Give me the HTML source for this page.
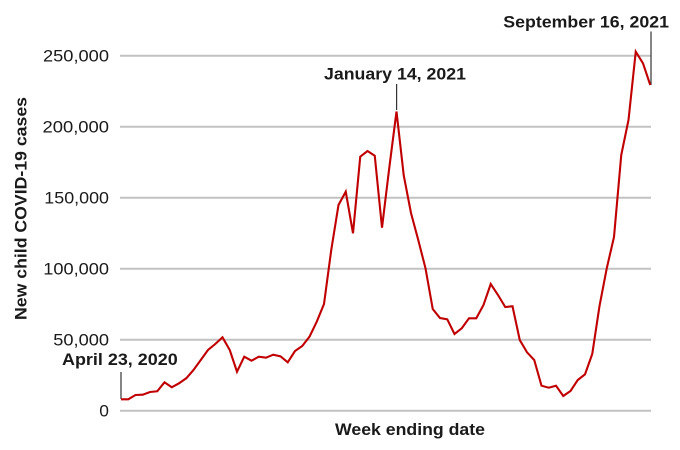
<!DOCTYPE html>
<html>
<head>
<meta charset="utf-8">
<style>
  html, body { margin: 0; padding: 0; background: #ffffff; }
  svg { display: block; }
  text { font-family: "Liberation Sans", sans-serif; fill: #1a1a1a; }
  .tick { font-size: 16.5px; font-weight: normal; }
  .ann { font-size: 16.5px; font-weight: bold; }
</style>
</head>
<body>
<svg width="680" height="450" viewBox="0 0 680 450" xmlns="http://www.w3.org/2000/svg">
  <rect x="0" y="0" width="680" height="450" fill="#ffffff"/>
  <!-- gridlines -->
  <g stroke="#c2c2c2" stroke-width="2">
    <line x1="120" y1="55.7" x2="651" y2="55.7"/>
    <line x1="120" y1="126.7" x2="651" y2="126.7"/>
    <line x1="120" y1="197.7" x2="651" y2="197.7"/>
    <line x1="120" y1="268.7" x2="651" y2="268.7"/>
    <line x1="120" y1="339.7" x2="651" y2="339.7"/>
    <line x1="120" y1="410.7" x2="651" y2="410.7"/>
  </g>
  <!-- tick labels -->
  <text class="tick" x="109" y="61.5" text-anchor="end" textLength="66" lengthAdjust="spacingAndGlyphs">250,000</text>
  <text class="tick" x="109" y="132.5" text-anchor="end" textLength="66.5" lengthAdjust="spacingAndGlyphs">200,000</text>
  <text class="tick" x="109" y="203.5" text-anchor="end" textLength="64.7" lengthAdjust="spacingAndGlyphs">150,000</text>
  <text class="tick" x="109" y="274.5" text-anchor="end" textLength="65.7" lengthAdjust="spacingAndGlyphs">100,000</text>
  <text class="tick" x="109" y="345.5" text-anchor="end" textLength="55.7" lengthAdjust="spacingAndGlyphs">50,000</text>
  <text class="tick" x="109" y="416.5" text-anchor="end" textLength="9.7" lengthAdjust="spacingAndGlyphs">0</text>

  <!-- axis titles -->
  <text class="ann" x="335" y="435" textLength="150" lengthAdjust="spacingAndGlyphs">Week ending date</text>
  <text class="ann" transform="translate(26.5,320) rotate(-90)" x="0" y="0" textLength="223" lengthAdjust="spacingAndGlyphs">New child COVID-19 cases</text>

  <!-- annotation leader lines -->
  <g stroke="#333333" stroke-width="1.2">
    <line x1="121" y1="372" x2="121" y2="399"/>
    <line x1="396.6" y1="84" x2="396.6" y2="110"/>
    <line x1="651" y1="31.5" x2="651" y2="85"/>
  </g>

  <!-- annotation texts -->
  <text class="ann" x="62" y="365" textLength="115.7" lengthAdjust="spacingAndGlyphs">April 23, 2020</text>
  <text class="ann" x="324" y="79.3" textLength="142" lengthAdjust="spacingAndGlyphs">January 14, 2021</text>
  <text class="ann" x="503.3" y="27.3" textLength="165.7" lengthAdjust="spacingAndGlyphs">September 16, 2021</text>

  <!-- data line -->
  <polyline fill="none" stroke="#c00000" stroke-width="2.1" stroke-linejoin="miter" stroke-miterlimit="4"
    points="
    121,399.3 128.25,399.3 135.5,395 142.75,394.7 150,392 157.25,391.3 164.5,382.3 171.75,387.3
    179,383.3 186.25,378.3 193.5,370 200.75,360 208,350 215.25,344 222.5,337.3 229.75,350
    237,371.7 244.25,356.7 251.5,360.7 258.75,356.7 266,357.7 273.25,354.7 280.5,356.3 287.75,362.3
    295,351 302.25,346 309.5,336.7 316.75,321.7 324,304 331.25,250 338.5,205 345.75,191.7
    353,233.3 360.25,156.7 367.5,151 374.75,155.7 382,227.7 389.25,168 396.5,111.5 403.75,175.5
    411,213 418.25,240 425.5,268.3 432.75,309 440,318 447.25,319.3 454.5,334 461.75,328.3
    469,318.3 476.25,318.3 483.5,305 490.75,284 498,295 505.25,307 512.5,306.3 519.75,340
    527,352.3 534.25,360 541.5,385.7 548.75,387.7 556,385.7 563.25,396 570.5,391 577.75,380
    585,374.3 592.25,354 599.5,306 606.75,268.3 614,237 621.25,155 628.5,120 635.75,51.7
    643,63.3 650.25,85"/>
</svg>
</body>
</html>
